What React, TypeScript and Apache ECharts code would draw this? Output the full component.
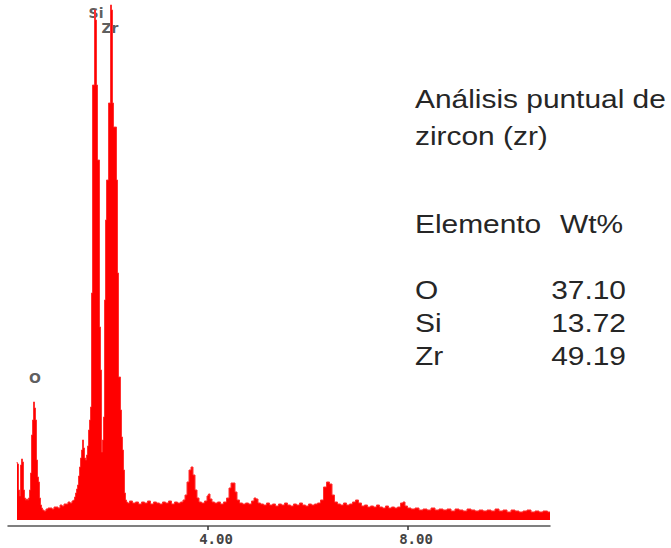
import React, { useEffect, useRef } from "react";
import * as echarts from "echarts";

// EDS spectrum: [energy keV, counts]
const lowEnergy: [number, number][] = [
  [0.18, 58], [0.2, 56], [0.22, 30], [0.24, 24], [0.26, 55], [0.28, 61], [0.3, 58], [0.32, 30],
  [0.34, 22], [0.36, 20], [0.38, 21], [0.4, 20], [0.42, 22], [0.44, 30], [0.46, 47], [0.48, 85],
  [0.5, 100], [0.52, 118], [0.54, 112], [0.56, 100], [0.58, 60], [0.6, 43], [0.62, 38], [0.64, 22],
  [0.66, 15], [0.68, 12], [0.7, 10], [0.74, 9], [0.78, 11], [0.82, 12], [0.86, 12], [0.9, 11],
  [0.94, 13], [0.98, 13], [1.02, 12], [1.06, 15], [1.1, 14], [1.14, 16], [1.18, 16], [1.22, 18],
  [1.26, 17], [1.3, 19], [1.32, 20], [1.34, 23], [1.36, 27], [1.38, 31], [1.4, 35], [1.42, 44],
  [1.44, 53], [1.46, 62], [1.48, 70], [1.5, 80], [1.52, 72], [1.54, 62], [1.56, 60], [1.58, 65],
];
const mainPeaks: [number, number][] = [
  [1.6, 74], [1.62, 90], [1.64, 100], [1.66, 113], [1.68, 227], [1.7, 435], [1.72, 435], [1.74, 510],
  [1.76, 500], [1.78, 435], [1.8, 360], [1.82, 360], [1.84, 193], [1.86, 150], [1.88, 68], [1.9, 80],
  [1.92, 103], [1.94, 220], [1.96, 300], [1.98, 340], [2.0, 340], [2.02, 417], [2.04, 417], [2.06, 515],
  [2.08, 510], [2.1, 417], [2.12, 393], [2.14, 393], [2.16, 393], [2.18, 340], [2.2, 247], [2.22, 143],
  [2.24, 143], [2.26, 110], [2.28, 83], [2.3, 70], [2.32, 50], [2.34, 27], [2.36, 20], [2.38, 18],
];
const background: [number, number][] = [
  [2.4, 17], [2.46, 19], [2.52, 17], [2.58, 18], [2.64, 16], [2.7, 18], [2.76, 17], [2.82, 19],
  [2.88, 16], [2.94, 18], [3.0, 17], [3.06, 16], [3.12, 18], [3.18, 17], [3.24, 19], [3.3, 16],
  [3.36, 18], [3.42, 17], [3.48, 18], [3.52, 20], [3.56, 25], [3.6, 38], [3.64, 50], [3.68, 53],
  [3.72, 45], [3.76, 30], [3.8, 22], [3.84, 18], [3.9, 17], [3.96, 19], [4.0, 24], [4.02, 26],
  [4.06, 21], [4.1, 18], [4.16, 17], [4.22, 18], [4.28, 16], [4.34, 18], [4.4, 22], [4.44, 32],
  [4.48, 37], [4.52, 37], [4.56, 28], [4.6, 20], [4.66, 17], [4.72, 16], [4.78, 17], [4.84, 16],
  [4.9, 19], [4.94, 22], [4.98, 21], [5.02, 17], [5.08, 16], [5.14, 15], [5.2, 17], [5.26, 15],
  [5.32, 16], [5.38, 14], [5.44, 16], [5.5, 15], [5.56, 17], [5.62, 15], [5.68, 14], [5.74, 16],
  [5.8, 15], [5.86, 17], [5.92, 15], [5.98, 14], [6.04, 16], [6.1, 15], [6.16, 16], [6.22, 17],
  [6.28, 20], [6.34, 33], [6.4, 38], [6.46, 36], [6.5, 25], [6.56, 18], [6.62, 16], [6.68, 15],
  [6.74, 17], [6.8, 15], [6.86, 16], [6.92, 18], [6.98, 20], [7.04, 17], [7.1, 14], [7.16, 15],
  [7.22, 13], [7.28, 14], [7.34, 13], [7.4, 15], [7.46, 13], [7.52, 12], [7.58, 14], [7.64, 12],
  [7.7, 13], [7.76, 12], [7.82, 13], [7.88, 17], [7.92, 18], [7.96, 14], [8.02, 12], [8.1, 11],
  [8.18, 12], [8.26, 10], [8.34, 11], [8.42, 10], [8.5, 12], [8.58, 10], [8.66, 11], [8.74, 10],
  [8.82, 11], [8.9, 9], [8.98, 11], [9.06, 10], [9.14, 9], [9.22, 11], [9.3, 10], [9.38, 9],
  [9.46, 10], [9.54, 9], [9.62, 10], [9.7, 9], [9.78, 11], [9.86, 9], [9.94, 10], [10.02, 8],
  [10.1, 10], [10.18, 9], [10.26, 8], [10.34, 9], [10.42, 10], [10.5, 8], [10.58, 9], [10.66, 8],
  [10.74, 9], [10.84, 8],
];

const tickValues = [4, 8];
const peakNames = ["O", "Si", "Zr"];
const peakEnergies = [0.54, 1.76, 2.04];
const peakLabelCounts = [142, 507, 492];

const titleLines = ["Análisis puntual de", "zircon (zr)"];
const tableHeader = ["Elemento", "Wt%"];
const elements = ["O", "Si", "Zr"];
const wtPercent = ["37.10", "13.72", "49.19"];

export default function App() {
  const ref = useRef<HTMLDivElement>(null);
  useEffect(() => {
    if (!ref.current) return;
    const chart = echarts.init(ref.current, null, { renderer: "svg" });
    const spectrum = [...lowEnergy, ...mainPeaks, ...background];
    const textFont = '26px "Liberation Sans", Arial, sans-serif';
    const txt = (text: string, x: number, y: number, align = "left") => ({
      type: "text",
      x,
      y,
      scaleX: 1.15,
      style: { text, x: 0, y: 0, font: textFont, fill: "#262626", textAlign: align, textVerticalAlign: "middle" },
    });
    const rowsY = [290, 323, 356];
    const graphics: any[] = [
      txt(titleLines[0], 415, 99),
      txt(titleLines[1], 415, 136),
      txt(tableHeader[0], 415, 224),
      txt(tableHeader[1], 560, 224),
    ];
    elements.forEach((el, i) => {
      graphics.push(txt(el, 415, rowsY[i]));
      graphics.push(txt(wtPercent[i], 626, rowsY[i], "right"));
    });
    chart.setOption({
      animation: false,
      backgroundColor: "#ffffff",
      grid: { left: 8, right: 121, top: 0, bottom: 22, containLabel: false },
      xAxis: {
        type: "value",
        min: 0,
        max: 10.84,
        splitLine: { show: false },
        axisLine: { onZero: false, lineStyle: { color: "#555", width: 1.5 } },
        axisTick: { show: true, customValues: tickValues, length: 4, lineStyle: { color: "#333", width: 1.5 } },
        axisLabel: {
          customValues: tickValues,
          formatter: (v: number) => v.toFixed(2),
          fontFamily: '"DejaVu Sans Mono", monospace',
          fontWeight: "bold",
          fontSize: 14,
          color: "#444",
          margin: 6,
          padding: [0, 0, 0, 16],
        },
      },
      yAxis: { type: "value", min: -6, max: 520, show: false, splitLine: { show: false } },
      series: [
        {
          type: "line",
          data: spectrum,
          step: "middle",
          symbol: "none",
          lineStyle: { color: "#ff3030", width: 1 },
          areaStyle: { color: "#ff0000", opacity: 1 },
          silent: true,
        },
        {
          type: "scatter",
          data: peakNames.map((n, i) => ({ name: n, value: [peakEnergies[i], peakLabelCounts[i]] })),
          symbolSize: 0,
          label: {
            show: true,
            position: "inside",
            formatter: (p: any) => p.name,
            fontFamily: '"DejaVu Sans", sans-serif',
            fontWeight: "bold",
            fontSize: 14,
            color: "#333",
          },
          silent: true,
        },
      ],
      graphic: graphics,
    });
    return () => chart.dispose();
  }, []);
  return (
    <div
      ref={ref}
      style={{ position: "fixed", left: 0, top: 0, width: 671, height: 548, background: "#fff" }}
    />
  );
}
